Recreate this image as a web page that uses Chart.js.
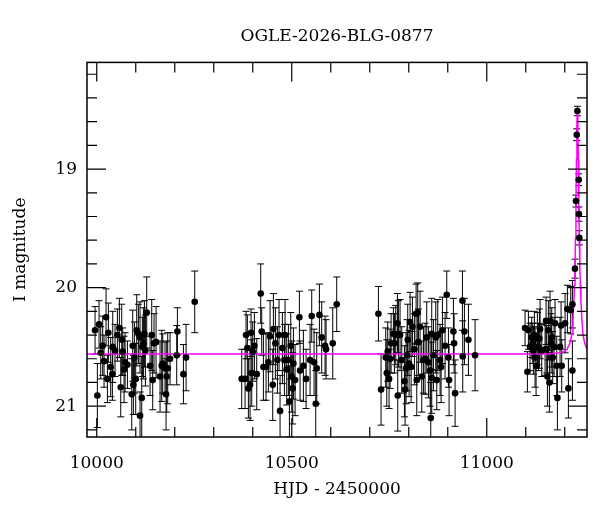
<!DOCTYPE html>
<html>
<head>
<meta charset="utf-8">
<script src="https://cdn.jsdelivr.net/npm/chart.js@4.4.1/dist/chart.umd.min.js"></script>
<style>
  html, body { margin: 0; padding: 0; background: #fff; }
  #wrap { width: 600px; height: 512px; }
</style>
</head>
<body>
<div id="wrap"><canvas id="lightcurve" width="600" height="512"></canvas></div>
<script>
// photometry (HJD - 2450000, I mag, 1 sigma)
const hjd = [
  // season 1
  9995.7, 10001.6, 10005.9, 10010.2, 10015.3, 10018.7, 10023.9, 10027.3, 10029.8, 10035.8,
  10040.1, 10041.0, 10046.9, 10052.9, 10058.0, 10061.5, 10064.0, 10066.6, 10070.0, 10072.6,
  10078.6, 10089.7, 10092.2, 10093.9, 10096.5, 10099.9, 10102.5, 10106.8, 10111.0, 10111.0,
  10115.3, 10117.0, 10119.6, 10122.2, 10128.1, 10124.7, 10136.7, 10141.0, 10143.5, 10146.9,
  10152.1, 10162.3, 10166.6, 10169.2, 10175.1, 10177.7, 10179.4, 10182.0, 10188.0, 10206.8,
  10205.0, 10222.2, 10229.0, 10251.2,
  // season 2
  10420.4, 10371.7, 10380.3, 10382.8, 10386.2, 10388.8, 10393.1, 10395.6, 10397.4, 10399.9,
  10404.2, 10410.2, 10423.0, 10427.3, 10434.1, 10440.1, 10444.4, 10451.2, 10452.9, 10458.0,
  10463.2, 10467.4, 10470.0, 10476.0, 10481.1, 10482.8, 10487.1, 10491.4, 10494.0, 10497.4,
  10499.9, 10502.5, 10504.2, 10508.5, 10519.6, 10521.3, 10529.8, 10536.7, 10547.0, 10551.2,
  10557.2, 10561.5, 10564.0, 10570.9, 10576.8, 10585.4, 10588.0, 10605.1, 10615.3,
  // season 3
  10722.2, 10729.0, 10741.0, 10743.6, 10746.1, 10749.5, 10752.1, 10754.7, 10760.6, 10763.2,
  10766.6, 10770.9, 10771.8, 10773.5, 10777.7, 10782.0, 10788.9, 10790.6, 10793.1, 10795.7,
  10797.4, 10800.8, 10803.4, 10806.0, 10809.4, 10814.5, 10818.8, 10820.5, 10823.0, 10824.8,
  10829.0, 10833.3, 10837.6, 10841.8, 10846.1, 10850.4, 10854.7, 10856.4, 10858.9, 10858.9,
  10863.2, 10869.2, 10871.8, 10874.3, 10880.3, 10882.9, 10886.3, 10893.1, 10897.4, 10901.7,
  10903.4, 10914.5, 10916.2, 10918.8, 10937.6, 10942.7, 10953.0, 10938.4, 10970.0,
  // season 4
  11098.2, 11104.2, 11106.8, 11111.0, 11115.3, 11117.9, 11119.6, 11122.1, 11123.8, 11126.4,
  11129.8, 11132.4, 11135.0, 11136.7, 11141.0, 11149.5, 11152.0, 11153.8, 11155.5, 11158.0,
  11160.6, 11162.3, 11164.9, 11166.6, 11169.1, 11172.6, 11175.1, 11179.4, 11181.1, 11187.9,
  11192.2, 11190.5, 11200.8, 11206.7, 11209.3, 11215.3, 11219.6, 11219.6, 11226.2, 11228.7,
  11230.7, 11232.4, 11235.8, 11236.3, 11237.3
]
const mag = [
  20.36, 20.91, 20.31, 20.55, 20.49, 20.62, 20.25, 20.77, 20.38, 20.67,
  20.73, 20.50, 20.53, 20.40, 20.34, 20.84, 20.44, 20.54, 20.69, 20.63,
  20.65, 20.90, 20.49, 20.82, 20.59, 20.77, 20.36, 20.39, 20.42, 21.08,
  20.93, 20.50, 20.47, 20.39, 20.21, 20.53, 20.66, 20.40, 20.78, 20.47,
  20.46, 20.75, 20.66, 20.64, 20.68, 20.90, 20.75, 20.68, 20.60, 20.37,
  20.57, 20.73, 20.59, 20.12,
  20.05, 20.77, 20.77, 20.40, 20.51, 20.85, 20.82, 20.38, 20.72, 20.54,
  20.49, 20.73, 20.37, 20.67, 20.67, 20.63, 20.41, 20.82, 20.35, 20.47,
  20.61, 20.40, 21.04, 20.51, 20.61, 20.40, 20.69, 20.61, 20.96, 20.49,
  20.75, 20.85, 20.64, 20.78, 20.25, 20.70, 20.66, 20.77, 20.61, 20.24,
  20.63, 20.98, 20.68, 20.23, 20.42, 20.49, 20.52, 20.47, 20.14,
  20.22, 20.86, 20.59, 20.72, 20.54, 20.77, 20.60, 20.47, 20.39, 20.47,
  20.40, 20.30, 20.91, 20.39, 20.40, 20.61, 20.79, 20.86, 20.68, 20.57,
  20.44, 20.64, 20.29, 20.67, 20.33, 20.52, 20.22, 20.78, 20.21, 20.46,
  20.33, 20.75, 20.61, 20.60, 20.42, 20.63, 20.70, 21.10, 20.39, 20.76,
  20.57, 20.42, 20.78, 20.40, 20.61, 20.67, 20.36, 20.49, 20.06, 20.59,
  20.78, 20.37, 20.47, 20.89, 20.11, 20.37, 20.44, 20.58, 20.57,
  20.34, 20.71, 20.36, 20.50, 20.42, 20.47, 20.53, 20.40, 20.59, 20.66,
  20.43, 20.50, 20.43, 20.35, 20.53, 20.52, 20.28, 20.52, 20.75, 20.36,
  20.80, 20.28, 20.47, 20.42, 20.59, 20.50, 20.30, 20.66, 20.93, 20.50,
  20.66, 20.32, 20.30, 20.18, 20.85, 20.19, 20.14, 20.70, 19.84, 19.27,
  18.71, 18.51, 19.09, 19.38, 19.58
]
const magErr = [
  0.20, 0.27, 0.20, 0.22, 0.25, 0.22, 0.24, 0.20, 0.25, 0.25,
  0.22, 0.30, 0.22, 0.22, 0.25, 0.25, 0.30, 0.20, 0.28, 0.25,
  0.20, 0.30, 0.30, 0.25, 0.30, 0.30, 0.30, 0.25, 0.30, 0.20,
  0.35, 0.25, 0.30, 0.28, 0.30, 0.30, 0.25, 0.30, 0.25, 0.25,
  0.30, 0.30, 0.30, 0.25, 0.22, 0.30, 0.30, 0.30, 0.22, 0.20,
  0.25, 0.25, 0.28, 0.26,
  0.25, 0.25, 0.25, 0.20, 0.28, 0.25, 0.30, 0.20, 0.28, 0.25,
  0.28, 0.30, 0.20, 0.28, 0.28, 0.25, 0.30, 0.30, 0.30, 0.30,
  0.28, 0.30, 0.30, 0.30, 0.30, 0.30, 0.30, 0.30, 0.30, 0.28,
  0.30, 0.30, 0.30, 0.30, 0.22, 0.25, 0.30, 0.25, 0.30, 0.22,
  0.28, 0.28, 0.30, 0.26, 0.30, 0.25, 0.25, 0.30, 0.23,
  0.23, 0.30, 0.25, 0.28, 0.25, 0.25, 0.25, 0.25, 0.22, 0.25,
  0.25, 0.25, 0.30, 0.28, 0.30, 0.28, 0.30, 0.30, 0.30, 0.30,
  0.30, 0.28, 0.25, 0.30, 0.25, 0.30, 0.25, 0.30, 0.25, 0.28,
  0.30, 0.30, 0.28, 0.30, 0.30, 0.30, 0.30, 0.30, 0.30, 0.30,
  0.30, 0.30, 0.25, 0.30, 0.30, 0.30, 0.28, 0.28, 0.20, 0.25,
  0.30, 0.28, 0.25, 0.28, 0.25, 0.28, 0.30, 0.30, 0.30,
  0.15, 0.17, 0.16, 0.20, 0.17, 0.17, 0.20, 0.20, 0.25, 0.25,
  0.22, 0.20, 0.25, 0.25, 0.22, 0.22, 0.20, 0.20, 0.25, 0.25,
  0.25, 0.25, 0.25, 0.25, 0.22, 0.25, 0.20, 0.25, 0.27, 0.25,
  0.22, 0.20, 0.25, 0.20, 0.25, 0.20, 0.20, 0.25, 0.08, 0.05,
  0.05, 0.04, 0.05, 0.06, 0.06
]

// magenta model curve
const modelHjd = [9975, 11160, 11185, 11198, 11206, 11213, 11218.6, 11221, 11223.4, 11225, 11226.2,
  11227.5, 11228.7, 11230, 11231.2, 11232.4, 11233.6, 11234.8, 11236, 11237.3, 11238.6,
  11240, 11241.5, 11244, 11246.5, 11251, 11257, 11262]
const modelMag = [20.56, 20.56, 20.55, 20.54, 20.52, 20.47, 20.39, 20.27, 20.11, 19.98, 19.83,
  19.58, 19.28, 18.92, 18.62, 18.48, 18.62, 18.92, 19.28, 19.58, 19.83,
  19.98, 20.11, 20.27, 20.39, 20.47, 20.52, 20.54]

// ticks
const xMajorTicks = [10000, 10500, 11000]
const xMinorTicks = [10100, 10200, 10300, 10400, 10600, 10700, 10800, 10900, 11100, 11200]
const yMajorTicks = [19, 20, 21]
const yMinorTicks = [18.2, 18.4, 18.6, 18.8, 19.2, 19.4, 19.6, 19.8, 20.2, 20.4, 20.6, 20.8, 21.2]

const serif = "'DejaVu Serif', serif"

let points = []
for (let i = 0; i < hjd.length; i++) {
  points.push({x: hjd[i], y: mag[i]})
}
let model = []
for (let i = 0; i < modelHjd.length; i++) {
  model.push({x: modelHjd[i], y: modelMag[i]})
}

// error bars go under the dots
const errorBars = {
  id: 'errorBars',
  beforeDatasetsDraw(chart) {
    const ctx = chart.ctx
    const xs = chart.scales.x
    const ys = chart.scales.y
    const a = chart.chartArea
    ctx.save()
    ctx.beginPath()
    ctx.rect(a.left, a.top, a.right - a.left, a.bottom - a.top)
    ctx.clip()
    ctx.strokeStyle = '#000'
    ctx.lineWidth = 1
    for (let i = 0; i < hjd.length; i++) {
      const px = xs.getPixelForValue(hjd[i])
      const top = ys.getPixelForValue(mag[i] - magErr[i])
      const bot = ys.getPixelForValue(mag[i] + magErr[i])
      ctx.beginPath()
      ctx.moveTo(px, top)
      ctx.lineTo(px, bot)
      ctx.moveTo(px - 3.5, top)
      ctx.lineTo(px + 3.5, top)
      ctx.moveTo(px - 3.5, bot)
      ctx.lineTo(px + 3.5, bot)
      ctx.stroke()
    }
    ctx.restore()
  }
}

// box with inward ticks on all four sides
const frame = {
  id: 'frame',
  afterDraw(chart) {
    const ctx = chart.ctx
    const xs = chart.scales.x
    const ys = chart.scales.y
    const a = chart.chartArea
    ctx.save()
    ctx.strokeStyle = '#000'
    ctx.lineWidth = 1.2
    ctx.beginPath()
    function xtick(v, len) {
      const p = xs.getPixelForValue(v)
      ctx.moveTo(p, a.bottom); ctx.lineTo(p, a.bottom - len)
      ctx.moveTo(p, a.top); ctx.lineTo(p, a.top + len)
    }
    function ytick(v, len) {
      const p = ys.getPixelForValue(v)
      ctx.moveTo(a.left, p); ctx.lineTo(a.left + len, p)
      ctx.moveTo(a.right, p); ctx.lineTo(a.right - len, p)
    }
    xMajorTicks.forEach(v => xtick(v, 19))
    xMinorTicks.forEach(v => xtick(v, 10))
    yMajorTicks.forEach(v => ytick(v, 19))
    yMinorTicks.forEach(v => ytick(v, 10))
    ctx.stroke()
    ctx.lineWidth = 1.5
    ctx.strokeRect(a.left, a.top, a.right - a.left, a.bottom - a.top)
    ctx.restore()
  }
}

Chart.defaults.color = '#000'
Chart.defaults.font.family = serif

new Chart(document.getElementById('lightcurve'), {
  type: 'scatter',
  data: {
    datasets: [{
      label: 'OGLE I',
      data: points,
      backgroundColor: '#000',
      borderWidth: 0,
      pointRadius: 3.3,
      order: 1
    }, {
      type: 'line',
      label: 'model',
      data: model,
      borderColor: '#ff00ff',
      borderWidth: 1.5,
      pointRadius: 0,
      fill: false,
      tension: 0,
      order: 2
    }]
  },
  options: {
    responsive: false,
    animation: false,
    devicePixelRatio: 1,
    layout: { padding: { left: 0, right: 13, top: 0, bottom: 0 } },
    plugins: {
      legend: { display: false },
      tooltip: { enabled: false },
      title: {
        display: true,
        text: 'OGLE-2026-BLG-0877',
        fullSize: false,
        font: { family: serif, size: 17, weight: 'normal' },
        padding: { top: 26, bottom: 16 }
      }
    },
    scales: {
      x: {
        type: 'linear',
        min: 9975,
        max: 11257,
        grid: { display: false, drawTicks: false },
        border: { display: false },
        afterBuildTicks: s => { s.ticks = xMajorTicks.map(v => ({value: v})) },
        afterFit: s => { s.height = 75 },
        ticks: {
          font: { family: serif, size: 17 },
          padding: 16,
          maxRotation: 0,
          callback: v => String(v)
        },
        title: {
          display: true,
          text: 'HJD - 2450000',
          font: { family: serif, size: 17 },
          padding: { top: 0, bottom: 12 }
        }
      },
      y: {
        type: 'linear',
        reverse: true,
        min: 18.1,
        max: 21.26,
        grid: { display: false, drawTicks: false },
        border: { display: false },
        afterBuildTicks: s => { s.ticks = yMajorTicks.map(v => ({value: v})) },
        afterFit: s => { s.width = 87 },
        ticks: {
          font: { family: serif, size: 17 },
          padding: 10,
          callback: v => String(v)
        },
        title: {
          display: true,
          text: 'I magnitude',
          font: { family: serif, size: 17 },
          padding: { top: 10, bottom: 0 }
        }
      }
    }
  },
  plugins: [errorBars, frame]
})
</script>
</body>
</html>
